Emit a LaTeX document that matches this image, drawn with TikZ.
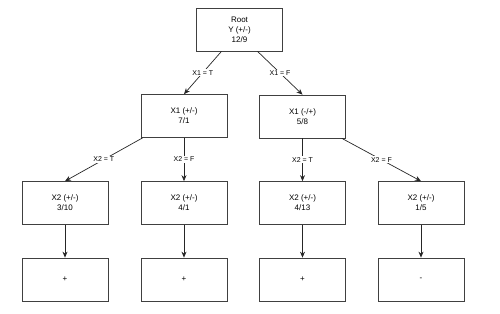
\documentclass[tikz,border=0pt]{standalone}
\usepackage{fontspec}
\setmainfont{Liberation Sans}
\usetikzlibrary{arrows.meta}

\begin{document}
\begin{tikzpicture}[x=1pt,y=-1pt,
  box/.style={draw=black!75, line width=0.7pt, minimum width=86pt, minimum height=43pt,
    inner sep=0pt, align=center, font=\fontsize{8}{10}\selectfont},
  edge/.style={draw=black!85, line width=0.7pt, -{Stealth[length=6pt,width=5pt]}},
  lbl/.style={fill=white, inner sep=1pt, font=\fontsize{7}{8}\selectfont}]
\useasboundingbox (0,0) rectangle (500,313);

% root
\node [box] (root) at (239.5,29.5) {Root\\Y (+/-)\\12/9};

% first split on X1
\node [box] (x1t) at (184,116) {X1 (+/-)\\7/1};
\node [box] (x1f) at (302.5,116.5) {X1 (-/+)\\5/8};

% second split on X2
\node [box] (x2a) at (65,203) {X2 (+/-)\\3/10};
\node [box] (x2b) at (184,203) {X2 (+/-)\\4/1};
\node [box] (x2c) at (302.5,203) {X2 (+/-)\\4/13};
\node [box] (x2d) at (421,203) {X2 (+/-)\\1/5};

% leaves
\node [box] (leafa) at (65,279.5) {+};
\node [box] (leafb) at (184,279.5) {+};
\node [box] (leafc) at (302.5,279.5) {+};
\node [box] (leafd) at (421,279.5) {-};

% edges
\draw [edge] ([xshift=-18pt]root.south) -- (x1t.north) node [lbl, midway] {X1 = T};
\draw [edge] ([xshift=18pt]root.south) -- (x1f.north) node [lbl, midway] {X1 = F};

\draw [edge] ([xshift=2pt]x1t.south west) -- (x2a.north) node [lbl, midway] {X2 = T};
\draw [edge] (x1t.south) -- (x2b.north) node [lbl, midway] {X2 = F};
\draw [edge] (x1f.south) -- (x2c.north) node [lbl, midway] {X2 = T};
\draw [edge] ([xshift=-4pt]x1f.south east) -- (x2d.north) node [lbl, midway] {X2 = F};

\draw [edge] (x2a) -- (leafa);
\draw [edge] (x2b) -- (leafb);
\draw [edge] (x2c) -- (leafc);
\draw [edge] (x2d) -- (leafd);

\end{tikzpicture}
\end{document}
